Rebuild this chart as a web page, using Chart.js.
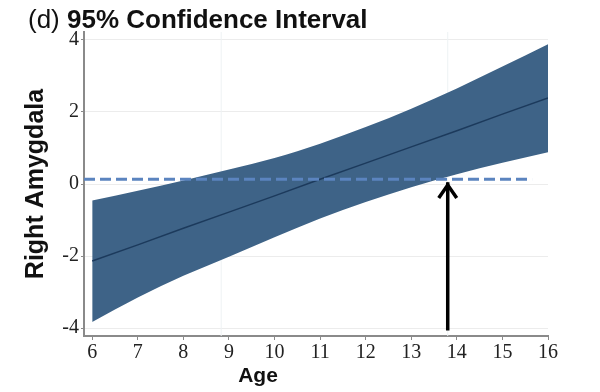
<!DOCTYPE html>
<html>
<head>
<meta charset="utf-8">
<script src="https://cdn.jsdelivr.net/npm/chart.js@4"></script>
<style>
  body { margin: 0; background: #fff; }
  #wrap { position: relative; width: 600px; height: 392px; }
  #title { position: absolute; left: 28px; top: 7px; font: 26px/25px "Liberation Sans", Arial, sans-serif; color: #111; white-space: nowrap; }
  #title b { font-weight: bold; }
  #xlabel { position: absolute; left: 258px; top: 364px; transform: translateX(-50%); font: bold 21px/21px "Liberation Sans", Arial, sans-serif; color: #111; }
</style>
</head>
<body>
<div id="wrap">
  <canvas id="ciChart"></canvas>
  <div id="title">(d) <b>95% Confidence Interval</b></div>
  <div id="xlabel">Age</div>
</div>
<script>
// values
const ages = [6, 7, 8, 9, 10, 11, 12, 13, 14, 15, 16];
const fitted = [-2.14, -1.69, -1.23, -0.78, -0.33, 0.13, 0.58, 1.03, 1.48, 1.94, 2.39];
const upperCI = [-0.46, -0.19, 0.10, 0.40, 0.72, 1.12, 1.58, 2.09, 2.65, 3.26, 3.88];
const lowerCI = [-3.83, -3.15, -2.55, -2.02, -1.48, -0.96, -0.50, -0.09, 0.27, 0.59, 0.88];

const xTicks = [6, 7, 8, 9, 10, 11, 12, 13, 14, 15, 16];
const yTicks = [-4, -2, 0, 2, 4];

const refLevel = 0.13;      // dashed horizontal line
const refEnd = 15.65;
const arrowAge = 13.8;      // arrow marking where lower CI crosses the line
const arrowFrom = -4.07;
const arrowTo = 0.0;
const faintLines = [8.83, 13.8];

const xMin = 5.82, xMax = 16;
const yMin = -4.22, yMax = 4.22;

const bandColor = '#3e6387';
const toPts = (xs, ys) => xs.map((x, i) => ({ x: x, y: ys[i] }));

const arrowHead = {
    id: 'arrowHead',
    afterDatasetsDraw(chart) {
        const { ctx, scales } = chart;
        const x = scales.x.getPixelForValue(arrowAge);
        const y = scales.y.getPixelForValue(arrowTo);
        ctx.save();
        ctx.strokeStyle = '#000';
        ctx.lineWidth = 3.5;
        ctx.beginPath();
        ctx.moveTo(x - 9, y + 14);
        ctx.lineTo(x, y + 1);
        ctx.lineTo(x + 9, y + 14);
        ctx.stroke();
        ctx.restore();
    }
};

const datasets = [
    {
        label: 'upper',
        data: toPts(ages, upperCI),
        borderWidth: 0,
        pointRadius: 0,
        cubicInterpolationMode: 'monotone',
        backgroundColor: bandColor,
        fill: '+1',
        order: 3
    },
    {
        label: 'lower',
        data: toPts(ages, lowerCI),
        borderWidth: 0,
        pointRadius: 0,
        cubicInterpolationMode: 'monotone',
        fill: false,
        order: 3
    },
    {
        label: 'fit',
        data: toPts(ages, fitted),
        borderColor: '#1c3a5c',
        borderWidth: 1.5,
        pointRadius: 0,
        fill: false,
        order: 2
    },
    {
        label: 'reference',
        data: [{ x: xMin, y: refLevel }, { x: refEnd, y: refLevel }],
        borderColor: '#5b84bf',
        borderWidth: 3,
        borderDash: [11, 5],
        pointRadius: 0,
        fill: false,
        order: 1
    },
    {
        label: 'arrow',
        data: [{ x: arrowAge, y: arrowFrom }, { x: arrowAge, y: arrowTo + 0.05 }],
        borderColor: '#000',
        borderWidth: 3.5,
        pointRadius: 0,
        fill: false,
        order: 0
    }
];

faintLines.forEach(a => {
    datasets.push({
        label: 'faint',
        data: [{ x: a, y: yMin }, { x: a, y: yMax }],
        borderColor: '#eef2f4',
        borderWidth: 1,
        pointRadius: 0,
        fill: false,
        order: 5
    });
});

new Chart(document.getElementById('ciChart'), {
    type: 'line',
    data: { datasets: datasets },
    plugins: [arrowHead],
    options: {
        responsive: true,
        maintainAspectRatio: false,
        animation: false,
        layout: { padding: { left: 21, top: 32, right: 52, bottom: 0 } },
        plugins: { legend: { display: false }, tooltip: { enabled: false } },
        scales: {
            x: {
                type: 'linear',
                min: xMin,
                max: xMax,
                afterBuildTicks: s => { s.ticks = xTicks.map(v => ({ value: v })); },
                afterFit: s => { s.height = 56; },
                border: { color: '#8a8a8a', width: 2 },
                grid: { drawOnChartArea: false, drawTicks: true, tickLength: 4, tickColor: '#8a8a8a', tickWidth: 1 },
                ticks: {
                    padding: 1,
                    color: '#222',
                    maxRotation: 0,
                    font: { family: '"Liberation Serif", "Times New Roman", serif', size: 20 }
                }
            },
            y: {
                min: yMin,
                max: yMax,
                afterBuildTicks: s => { s.ticks = yTicks.map(v => ({ value: v })); },
                afterFit: s => { s.width = 63; },
                border: { color: '#8a8a8a', width: 2 },
                grid: { color: '#ececec', lineWidth: 1, drawTicks: true, tickLength: 3, tickColor: '#8a8a8a' },
                ticks: {
                    padding: 2,
                    color: '#222',
                    font: { family: '"Liberation Serif", "Times New Roman", serif', size: 20 }
                },
                title: {
                    display: true,
                    text: 'Right Amygdala',
                    color: '#111',
                    padding: { top: 0, bottom: 0 },
                    font: { family: '"Liberation Sans", Arial, sans-serif', size: 25, weight: 'bold' }
                }
            }
        }
    }
});
</script>
</body>
</html>
